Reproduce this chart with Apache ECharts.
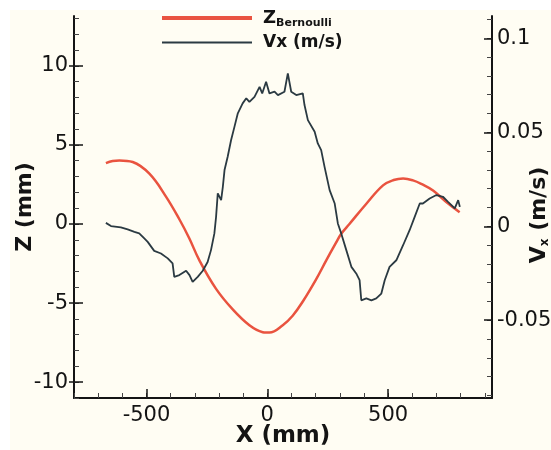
<!DOCTYPE html>
<html><head><meta charset="utf-8">
<script src="https://cdn.jsdelivr.net/npm/echarts@6/dist/echarts.min.js"></script>
<style>html,body{margin:0;padding:0;background:#fff}#c{width:551px;height:450px}</style>
</head><body><div id="c"></div>
<script>
// ---- data ----
const zX = [-668,-640,-612,-557,-488,-420,-364,-323,-281,-212,-143,-74,-19,-5,9,64,105,147,202,244,284,306,340,410,479,523,562,603,642,686,742,796];
const zValues = [3.85,3.98,4.02,3.92,3.18,1.75,0.3,-0.9,-2.3,-4.1,-5.4,-6.4,-6.84,-6.86,-6.86,-6.4,-5.8,-4.9,-3.5,-2.3,-1.2,-0.62,0.0,1.28,2.44,2.78,2.88,2.76,2.5,2.12,1.38,0.75];
const vxX = [-668,-647,-606,-578,-550,-530,-509,-495,-468,-440,-412,-392,-385,-364,-336,-322,-309,-288,-267,-247,-233,-219,-212,-205,-191,-184,-177,-164,-150,-136,-122,-102,-87,-74,-53,-32,-21,-5,9,30,44,71,85,99,120,147,154,168,196,209,223,237,258,279,292,306,327,348,368,382,389,410,431,451,472,486,506,534,562,589,610,631,644,672,700,727,748,776,790,797];
const vxValues = [0.0018,0.0001,-0.0006,-0.0017,-0.0030,-0.0038,-0.0065,-0.0083,-0.0131,-0.0145,-0.0171,-0.0198,-0.0269,-0.0260,-0.0237,-0.0260,-0.0296,-0.0269,-0.0237,-0.0190,-0.0127,-0.0038,0.0050,0.0175,0.0139,0.0210,0.0299,0.0370,0.0458,0.0529,0.0601,0.0654,0.0681,0.0662,0.0689,0.0742,0.0707,0.0769,0.0707,0.0716,0.0698,0.0716,0.0814,0.0716,0.0698,0.0707,0.0645,0.0565,0.0503,0.0441,0.0405,0.0316,0.0192,0.0121,0.0015,-0.0038,-0.0127,-0.0216,-0.0251,-0.0287,-0.0394,-0.0384,-0.0394,-0.0384,-0.0358,-0.0287,-0.0216,-0.0181,-0.0101,-0.0021,0.0050,0.0121,0.0121,0.0148,0.0166,0.0157,0.0130,0.0095,0.0139,0.0103];

// ---- ticks ----
const xMajorTicks = [-500, 0, 500];
const xMinorTicks = [-800,-700,-600,-500,-400,-300,-200,-100,0,100,200,300,400,500,600,700,800,900];
const zMajorTicks = [-10, -5, 0, 5, 10];
const zMinorTicks = [-11,-10,-9,-8,-7,-6,-5,-4,-3,-2,-1,0,1,2,3,4,5,6,7,8,9,10,11,12,13];
const vxMajorTicks = [-0.05, 0, 0.05, 0.1];
const vxMinorTicks = [-0.09,-0.08,-0.07,-0.06,-0.05,-0.04,-0.03,-0.02,-0.01,0,0.01,0.02,0.03,0.04,0.05,0.06,0.07,0.08,0.09,0.1,0.11];

const FONT = 'DejaVu Sans';
const INK = '#141414';
const RED = '#e9533f';
const DARK = '#2b3a42';

const xRange = {min: -800, max: 930};
const zRange = {min: -11, max: 13.15};
const vxRange = {min: -0.0914, max: 0.1119};

function pairs(xs, ys) { return xs.map((x, i) => [x, ys[i]]); }

const labelStyle = {color: INK, fontFamily: FONT, fontSize: 21};
const hidden = {show: false};

const chart = echarts.init(document.getElementById('c'), null, {renderer: 'canvas'});
chart.setOption({
  backgroundColor: '#ffffff',
  animation: false,
  graphic: [{type: 'rect', z: -100, silent: true, shape: {x: 10, y: 10, width: 541, height: 440}, style: {fill: '#fffdf3'}}],
  grid: {left: 74, top: 16, width: 418, height: 382, containLabel: false, outerBoundsMode: 'none'},
  legend: [
    {data: [{name: 'Z', icon: 'rect'}], left: 157, top: 4, orient: 'vertical', itemWidth: 90, itemHeight: 4,
     formatter: () => '{z|Z}{s|Bernoulli}',
     textStyle: {color: INK, fontFamily: FONT, fontWeight: 'bold', padding: [0,0,0,6],
       rich: {z: {fontSize: 18, fontWeight: 'bold', fontFamily: FONT, color: INK},
              s: {fontSize: 11, fontWeight: 'bold', fontFamily: FONT, color: INK, padding: [10,0,0,0]}}}},
    {data: [{name: 'Vx (m/s)', icon: 'rect'}], left: 157, top: 29, orient: 'vertical', itemWidth: 90, itemHeight: 2,
     textStyle: {color: INK, fontFamily: FONT, fontWeight: 'bold', fontSize: 17, padding: [0,0,0,6]}}
  ],
  xAxis: [
    {type: 'value', position: 'bottom', ...xRange,
     name: 'X (mm)', nameLocation: 'middle', nameGap: 27, nameMoveOverlap: false,
     nameTextStyle: {color: INK, fontFamily: FONT, fontWeight: 'bold', fontSize: 23},
     axisLine: {show: true, onZero: false, lineStyle: {color: INK, width: 2}},
     axisTick: {show: true, inside: true, length: 5, customValues: xMinorTicks, lineStyle: {color: '#444', width: 1}},
     axisLabel: {...labelStyle, margin: 7, customValues: xMajorTicks},
     splitLine: hidden},
    {type: 'value', position: 'bottom', ...xRange,
     axisLine: {show: false, onZero: false},
     axisTick: {show: true, inside: true, length: 9, customValues: xMajorTicks, lineStyle: {color: INK, width: 1.5}},
     axisLabel: hidden, splitLine: hidden}
  ],
  yAxis: [
    {type: 'value', position: 'left', ...zRange,
     name: 'Z (mm)', nameLocation: 'middle', nameGap: 38, nameRotate: 90, nameMoveOverlap: false,
     nameTextStyle: {color: INK, fontFamily: FONT, fontWeight: 'bold', fontSize: 22},
     axisLine: {show: true, onZero: false, lineStyle: {color: INK, width: 2}},
     axisTick: {show: true, inside: true, length: 5, customValues: zMinorTicks, lineStyle: {color: '#444', width: 1}},
     axisLabel: {...labelStyle, margin: 6, customValues: zMajorTicks},
     splitLine: hidden},
    {type: 'value', position: 'right', ...vxRange,
     name: 'V{s|x} (m/s)', nameLocation: 'middle', nameGap: 35, nameRotate: 90, nameMoveOverlap: false,
     nameTextStyle: {color: INK, fontFamily: FONT, fontWeight: 'bold', fontSize: 22, padding: [0, 16, 0, 0],
       rich: {s: {fontSize: 12, fontWeight: 'bold', fontFamily: FONT, color: INK, padding: [12,0,0,0]}}},
     axisLine: {show: true, onZero: false, lineStyle: {color: INK, width: 2}},
     axisTick: {show: true, inside: true, length: 5, customValues: vxMinorTicks, lineStyle: {color: '#444', width: 1}},
     axisLabel: {...labelStyle, margin: 5, customValues: vxMajorTicks},
     splitLine: hidden},
    {type: 'value', position: 'left', ...zRange,
     axisLine: {show: false, onZero: false},
     axisTick: {show: true, inside: true, length: 9, customValues: zMajorTicks, lineStyle: {color: INK, width: 1.5}},
     axisLabel: hidden, splitLine: hidden},
    {type: 'value', position: 'left', ...zRange,
     axisLine: {show: false, onZero: false},
     axisTick: {show: true, inside: false, length: 5, customValues: zMajorTicks, lineStyle: {color: INK, width: 1.5}},
     axisLabel: hidden, splitLine: hidden},
    {type: 'value', position: 'right', ...vxRange,
     axisLine: {show: false, onZero: false},
     axisTick: {show: true, inside: true, length: 8, customValues: vxMajorTicks, lineStyle: {color: INK, width: 1.5}},
     axisLabel: hidden, splitLine: hidden}
  ],
  series: [
    {name: 'Z', type: 'line', xAxisIndex: 0, yAxisIndex: 0, data: pairs(zX, zValues),
     smooth: 0.4, symbol: 'none', lineStyle: {color: RED, width: 2.5}, itemStyle: {color: RED}},
    {name: 'Vx (m/s)', type: 'line', xAxisIndex: 0, yAxisIndex: 1, data: pairs(vxX, vxValues),
     symbol: 'none', lineStyle: {color: DARK, width: 1.8}, itemStyle: {color: DARK}}
  ]
});
</script></body></html>
